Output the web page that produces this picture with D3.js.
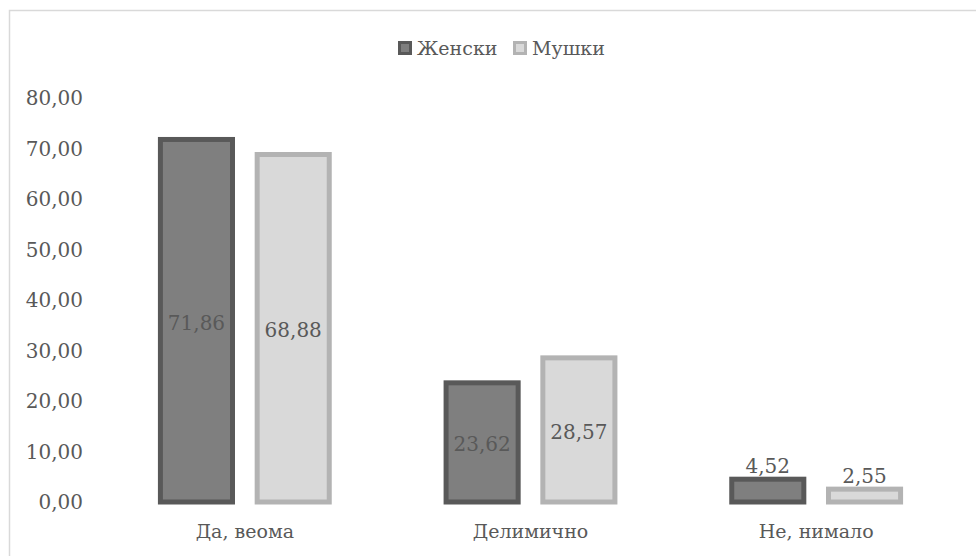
<!DOCTYPE html>
<html>
<head>
<meta charset="utf-8">
<script src="https://cdn.jsdelivr.net/npm/d3@7"></script>
<style>
    body { margin: 0; background: #fff; }
</style>
</head>
<body>
<div id="chart"></div>
<script>
const categories = ["Да, веома", "Делимично", "Не, нимало"];
const seriesNames = ["Женски", "Мушки"];
const zenski = [71.86, 23.62, 4.52];
const muski = [68.88, 28.57, 2.55];
const yTicks = [0, 10, 20, 30, 40, 50, 60, 70, 80];

const colors = {
    "Женски": { fill: "#7f7f7f", stroke: "#595959" },
    "Мушки": { fill: "#d9d9d9", stroke: "#b3b3b3" }
};

const width = 976;
const height = 556;
const fontFamily = "DejaVu Serif";

const svg = d3.select('#chart')
    .append('svg')
    .attr('width', width)
    .attr('height', height)
    .attr('font-family', fontFamily)
    .attr('fill', '#595959');

// chart frame
svg.append('rect')
    .attr('x', 9.5).attr('y', 10.5)
    .attr('width', 980).attr('height', 560)
    .attr('fill', 'none')
    .attr('stroke', '#d9d9d9')
    .attr('stroke-width', 1.5);

const locale = d3.formatLocale({ decimal: ",", thousands: ".", grouping: [3], currency: ["", ""] });
const fmt = locale.format(".2f");

const x0 = d3.scaleBand()
    .domain(categories)
    .range([102, 959])
    .paddingInner(0.409)
    .paddingOuter(0.2045);

const x1 = d3.scaleBand()
    .domain(seriesNames)
    .range([0, x0.bandwidth()])
    .paddingInner(0.255);

const y = d3.scaleLinear().domain([0, 80]).range([502, 98.4]);

// y axis labels
svg.append('g')
    .selectAll('text')
    .data(yTicks)
    .join('text')
    .attr('x', 83)
    .attr('y', d => y(d))
    .attr('dy', '0.35em')
    .attr('text-anchor', 'end')
    .attr('font-size', 20)
    .text(d => fmt(d));

const rows = categories.map((c, i) => ({
    cat: c,
    values: [
        { s: "Женски", v: zenski[i] },
        { s: "Мушки", v: muski[i] }
    ]
}));

const groups = svg.append('g')
    .selectAll('g')
    .data(rows)
    .join('g')
    .attr('transform', d => `translate(${x0(d.cat)},0)`);

groups.selectAll('rect')
    .data(d => d.values)
    .join('rect')
    .attr('x', d => x1(d.s))
    .attr('y', d => y(d.v))
    .attr('width', x1.bandwidth())
    .attr('height', d => y(0) - y(d.v))
    .attr('fill', d => colors[d.s].fill)
    .attr('stroke', d => colors[d.s].stroke)
    .attr('stroke-width', 5);

// data labels: inside center for tall bars, above for short ones
groups.selectAll('text.lbl')
    .data(d => d.values)
    .join('text')
    .attr('class', 'lbl')
    .attr('x', d => x1(d.s) + x1.bandwidth() / 2)
    .attr('y', d => (y(0) - y(d.v) > 40) ? (y(d.v) + y(0)) / 2 + 2 : y(d.v) - 13)
    .attr('dy', '0.35em')
    .attr('text-anchor', 'middle')
    .attr('font-size', 20)
    .text(d => fmt(d.v));

// category labels
svg.append('g')
    .selectAll('text')
    .data(categories)
    .join('text')
    .attr('x', d => x0(d) + x0.bandwidth() / 2)
    .attr('y', 531)
    .attr('dy', '0.35em')
    .attr('text-anchor', 'middle')
    .attr('font-size', 19)
    .text(d => d);

// legend
const legend = svg.append('g');
const legendX = [398, 513];
seriesNames.forEach((s, i) => {
    legend.append('rect')
        .attr('x', legendX[i] + 1.5)
        .attr('y', 42.5)
        .attr('width', 11)
        .attr('height', 11)
        .attr('fill', colors[s].fill)
        .attr('stroke', colors[s].stroke)
        .attr('stroke-width', 3);
    legend.append('text')
        .attr('x', legendX[i] + 19)
        .attr('y', 48)
        .attr('dy', '0.35em')
        .attr('font-size', 19)
        .text(s);
});
</script>
</body>
</html>
